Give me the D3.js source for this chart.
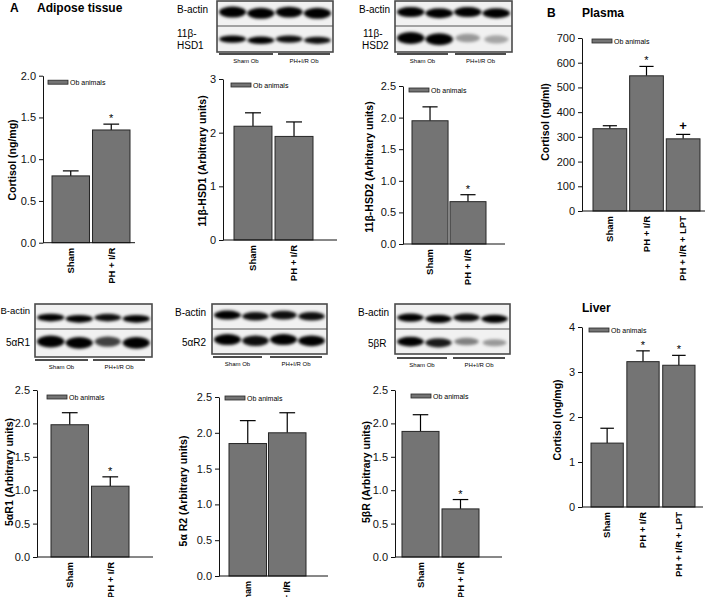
<!DOCTYPE html>
<html><head><meta charset="utf-8">
<script src="https://cdn.jsdelivr.net/npm/d3@7"></script>
<style>
body{margin:0;background:#fff}
svg{display:block;font-family:"Liberation Sans",Arial,Helvetica,sans-serif}
</style>
</head><body>
<svg id="c" width="709" height="597"></svg>
<script>
// ---------- DATA ----------
const groups2 = ["Sham", "PH + I/R"];
const groups3 = ["Sham", "PH + I/R", "PH + I/R + LPT"];
const legendLabel = "Ob animals";

const adiposeCortisol = [0.80, 1.35];
const adiposeCortisolErr = [0.06, 0.07];
const adiposeCortisolSig = ["", "*"];

const hsd1Values = [2.12, 1.93];
const hsd1Err = [0.25, 0.27];
const hsd1Sig = ["", ""];

const hsd2Values = [1.95, 0.67];
const hsd2Err = [0.22, 0.11];
const hsd2Sig = ["", "*"];

const r1Values = [1.98, 1.06];
const r1Err = [0.18, 0.14];
const r1Sig = ["", "*"];

const r2Values = [1.85, 2.00];
const r2Err = [0.32, 0.28];
const r2Sig = ["", ""];

const bRValues = [1.88, 0.72];
const bRErr = [0.25, 0.14];
const bRSig = ["", "*"];

const plasmaValues = [333, 547, 292];
const plasmaErr = [12, 38, 18];
const plasmaSig = ["", "*", "+"];

const liverValues = [1.42, 3.23, 3.15];
const liverErr = [0.33, 0.24, 0.22];
const liverSig = ["", "*", "*"];

const ticks0to2 = [0, 0.5, 1.0, 1.5, 2.0];
const ticks0to3 = [0, 1, 2, 3];
const ticks0to25 = [0, 0.5, 1.0, 1.5, 2.0, 2.5];
const ticks0to700 = [0, 100, 200, 300, 400, 500, 600, 700];
const ticks0to4 = [0, 1, 2, 3, 4];

// western blot band intensities (lanes: Sham Ob x2, PH+I/R Ob x2)
const blotGroups = ["Sham Ob", "PH+I/R Ob"];
const hsd1ActinBands = [1.0, 1.0, 0.95, 1.0];
const hsd1Bands = [0.95, 0.95, 0.9, 0.9];
const hsd2ActinBands = [1.0, 1.0, 1.0, 1.0];
const hsd2Bands = [1.0, 1.0, 0.35, 0.3];
const r1ActinBands = [0.95, 0.95, 0.9, 0.95];
const r1Bands = [1.0, 0.95, 0.7, 0.95];
const r2ActinBands = [1.0, 0.9, 0.9, 0.9];
const r2Bands = [1.0, 0.9, 1.0, 0.95];
const bRActinBands = [0.95, 0.95, 0.9, 0.95];
const bRBands = [0.95, 0.85, 0.45, 0.35];

// ---------- DRAW ----------
const svg = d3.select("#c");
const defs = svg.append("defs");
defs.append("filter").attr("id","blur").attr("x","-30%").attr("y","-100%").attr("width","160%").attr("height","300%")
  .append("feGaussianBlur").attr("stdDeviation","1.8 1.4");

const BAR_FILL = "#747474", BAR_STROKE = "#262626";

function barPanel(c) {
  const g = svg.append("g");
  const y = d3.scaleLinear().domain([0, c.max]).range([c.bottom, c.top]);
  const x = d3.scaleBand().domain(c.groups).range([c.barL, c.barR]).paddingInner(c.pad);
  const bw = x.bandwidth();
  const cap = bw * 0.42;
  c.values.forEach((v, i) => {
    const cx = x(c.groups[i]) + bw / 2;
    const yt = y(v + c.err[i]);
    g.append("line").attr("x1", cx).attr("x2", cx).attr("y1", y(v)).attr("y2", yt)
      .attr("stroke", "#000").attr("stroke-width", 1.2);
    g.append("line").attr("x1", cx - cap / 2).attr("x2", cx + cap / 2).attr("y1", yt).attr("y2", yt)
      .attr("stroke", "#000").attr("stroke-width", 1.2);
    if (c.sig[i]) {
      g.append("text").attr("x", cx).attr("y", yt - (c.sig[i] === "+" ? 4 : 2))
        .attr("text-anchor", "middle").attr("font-size", c.sig[i] === "+" ? 13 : 11)
        .attr("font-weight", c.sig[i] === "+" ? "bold" : "normal").text(c.sig[i]);
    }
  });
  g.selectAll("rect.bar").data(c.values).join("rect").attr("class", "bar")
    .attr("x", (d, i) => x(c.groups[i])).attr("y", d => y(d))
    .attr("width", bw).attr("height", d => c.bottom - y(d))
    .attr("fill", BAR_FILL).attr("stroke", BAR_STROKE).attr("stroke-width", 1);
  const ax = d3.axisLeft(y).tickValues(c.ticks).tickFormat(d3.format(c.fmt))
    .tickSize(4).tickPadding(3).tickSizeOuter(0);
  const ga = g.append("g").attr("transform", `translate(${c.axisX},0)`).call(ax);
  ga.selectAll("text").attr("font-size", 11).attr("font-family", "Liberation Sans, Arial, sans-serif").attr("fill", "#111");
  ga.selectAll("line,path").attr("stroke", "#111");
  g.append("line").attr("x1", c.axisX).attr("x2", c.axisEnd).attr("y1", c.bottom).attr("y2", c.bottom)
    .attr("stroke", "#111").attr("stroke-width", 1);
  c.groups.forEach(gr => {
    const cx = x(gr) + bw / 2;
    g.append("text").attr("transform", `translate(${cx},${c.bottom + 5}) rotate(-90)`)
      .attr("text-anchor", "end").attr("dy", "0.35em").attr("font-size", c.xfs || 9.5).attr("font-weight", "bold")
      .text(gr);
  });
  g.append("text").attr("transform", `translate(${c.ylx},${c.yly}) rotate(-90)`)
    .attr("text-anchor", "middle").attr("dy", "0.35em").attr("font-size", 10.5).attr("font-weight", "bold")
    .text(c.ylabel);
  const lx = c.axisX + c.lgx, ly = c.top + c.lgy;
  g.append("rect").attr("x", lx).attr("y", ly).attr("width", 20).attr("height", 4)
    .attr("fill", BAR_FILL).attr("stroke", BAR_STROKE).attr("stroke-width", 0.8);
  g.append("text").attr("x", lx + 22).attr("y", ly + 4.5).attr("font-size", 7).text(legendLabel);
}

barPanel({groups: groups2, values: adiposeCortisol, err: adiposeCortisolErr, sig: adiposeCortisolSig,
  max: 2, ticks: ticks0to2, fmt: ".1f", axisX: 43, axisEnd: 135, top: 75.7, bottom: 242.7,
  barL: 52, barR: 130, pad: 0.075, ylabel: "Cortisol (ng/mg)", ylx: 12, yly: 160, lgx: 5, lgy: 4.5});
barPanel({groups: groups2, values: hsd1Values, err: hsd1Err, sig: hsd1Sig,
  max: 3, ticks: ticks0to3, fmt: "d", axisX: 223, axisEnd: 337, top: 79, bottom: 240,
  barL: 234, barR: 313, pad: 0.075, ylabel: "11β-HSD1 (Arbitrary units)", ylx: 202, yly: 161, lgx: 8, lgy: 4});
barPanel({groups: groups2, values: hsd2Values, err: hsd2Err, sig: hsd2Sig,
  max: 2.5, ticks: ticks0to25, fmt: ".1f", axisX: 403, axisEnd: 505, top: 86, bottom: 244,
  barL: 412, barR: 486, pad: 0.05, ylabel: "11β-HSD2 (Arbitrary units)", ylx: 369, yly: 167, lgx: 6, lgy: 2});
barPanel({groups: groups2, values: r1Values, err: r1Err, sig: r1Sig,
  max: 2.5, ticks: ticks0to25, fmt: ".1f", axisX: 37, axisEnd: 153, top: 390, bottom: 557,
  barL: 51, barR: 129, pad: 0.075, ylabel: "5αR1 (Arbitrary units)", ylx: 9, yly: 472, lgx: 10, lgy: 5});
barPanel({groups: groups2, values: r2Values, err: r2Err, sig: r2Sig,
  max: 2.5, ticks: ticks0to25, fmt: ".1f", axisX: 219, axisEnd: 328, top: 397, bottom: 576,
  barL: 229, barR: 306, pad: 0.05, ylabel: "5α R2 (Arbitrary units)", ylx: 183, yly: 491, lgx: 6, lgy: -1, xfs: 9});
barPanel({groups: groups2, values: bRValues, err: bRErr, sig: bRSig,
  max: 2.5, ticks: ticks0to25, fmt: ".1f", axisX: 395, axisEnd: 502, top: 390, bottom: 557,
  barL: 402, barR: 479, pad: 0.075, ylabel: "5βR (Arbitrary units)", ylx: 366, yly: 472, lgx: 16, lgy: 4});
barPanel({groups: groups3, values: plasmaValues, err: plasmaErr, sig: plasmaSig,
  max: 700, ticks: ticks0to700, fmt: "d", axisX: 582, axisEnd: 705, top: 38, bottom: 211,
  barL: 593, barR: 700, pad: 0.08, ylabel: "Cortisol (ng/ml)", ylx: 545, yly: 122, lgx: 10, lgy: 1});
barPanel({groups: groups3, values: liverValues, err: liverErr, sig: liverSig,
  max: 4, ticks: ticks0to4, fmt: "d", axisX: 582, axisEnd: 703, top: 327, bottom: 507,
  barL: 591, barR: 695, pad: 0.1, ylabel: "Cortisol (ng/mg)", ylx: 557, yly: 420, lgx: 7, lgy: 1});

// western blots
let clipId = 0;
function blot(c) {
  const g = svg.append("g");
  const id = "clip" + (clipId++);
  defs.append("clipPath").attr("id", id).append("rect")
    .attr("x", c.x).attr("y", c.y).attr("width", c.w).attr("height", c.h);
  g.append("rect").attr("x", c.x).attr("y", c.y).attr("width", c.w).attr("height", c.h).attr("fill", "#f1f1f1");
  const lanes = d3.scaleBand().domain([0, 1, 2, 3]).range([c.x + 2, c.x + c.w - 2]).paddingInner(0.04);
  const bg = g.append("g").attr("clip-path", `url(#${id})`).append("g").attr("filter", "url(#blur)");
  [[c.actin, c.actinY, c.actinRy], [c.band, c.bandY, c.bandRy]].forEach(([arr, cy, ry]) => {
    bg.selectAll(null).data(arr).join("ellipse")
      .attr("cx", (d, i) => lanes(i) + lanes.bandwidth() / 2)
      .attr("cy", (d, i) => cy + (i % 2 ? 0.8 : -0.4))
      .attr("rx", (d) => lanes.bandwidth() * (0.42 + 0.08 * d))
      .attr("ry", d => ry * (0.55 + 0.45 * d))
      .attr("fill", "#000").attr("fill-opacity", d => Math.min(1, d * 1.05));
  });
  g.append("line").attr("x1", c.x).attr("x2", c.x + c.w).attr("y1", c.div).attr("y2", c.div)
    .attr("stroke", "#555").attr("stroke-width", 1.2);
  g.append("rect").attr("x", c.x).attr("y", c.y).attr("width", c.w).attr("height", c.h)
    .attr("fill", "none").attr("stroke", "#4a4a4a").attr("stroke-width", 1.6);
  c.labels.forEach(l => {
    g.append("text").attr("x", l.x).attr("y", l.y).attr("font-size", l.fs || 10).attr("text-anchor", l.anchor || "start").text(l.t);
  });
  c.lines.forEach((ln, i) => {
    g.append("line").attr("x1", ln[0]).attr("x2", ln[1]).attr("y1", c.lineY).attr("y2", c.lineY)
      .attr("stroke", "#111").attr("stroke-width", 1.5);
    g.append("text").attr("x", (ln[0] + ln[1]) / 2).attr("y", c.lineY + 8.5).attr("text-anchor", "middle")
      .attr("font-size", 6).text(blotGroups[i]);
  });
}

blot({x: 217, y: 1, w: 116, h: 51, div: 26, actin: hsd1ActinBands, actinY: 12.5, actinRy: 5.5,
  band: hsd1Bands, bandY: 39.5, bandRy: 3.8,
  labels: [{t: "B-actin", x: 177, y: 12.5}, {t: "11β-", x: 177, y: 36.5}, {t: "HSD1", x: 177, y: 48.5}],
  lines: [[219, 273], [278, 330]], lineY: 54});
blot({x: 395, y: 1, w: 117, h: 51, div: 26, actin: hsd2ActinBands, actinY: 12.5, actinRy: 5,
  band: hsd2Bands, bandY: 38.5, bandRy: 6,
  labels: [{t: "B-actin", x: 359, y: 12.5}, {t: "11β-", x: 363, y: 36.5}, {t: "HSD2", x: 362, y: 48.5}],
  lines: [[397, 448], [455, 506]], lineY: 54});
blot({x: 35, y: 304, w: 117, h: 53, div: 329, actin: r1ActinBands, actinY: 318, actinRy: 4,
  band: r1Bands, bandY: 342, bandRy: 6,
  labels: [{t: "B-actin", x: 0.5, y: 313.5, fs: 9.5}, {t: "5αR1", x: 6, y: 346}],
  lines: [[35, 88], [93, 145]], lineY: 360});
blot({x: 212, y: 304, w: 115, h: 50, div: 329, actin: r2ActinBands, actinY: 315.5, actinRy: 4.5,
  band: r2Bands, bandY: 340, bandRy: 5.5,
  labels: [{t: "B-actin", x: 175, y: 315.5}, {t: "5αR2", x: 182, y: 345.5}],
  lines: [[213, 262], [270, 322]], lineY: 357});
blot({x: 395, y: 304, w: 115, h: 50, div: 329, actin: bRActinBands, actinY: 318, actinRy: 4.2,
  band: bRBands, bandY: 342, bandRy: 5,
  labels: [{t: "B-actin", x: 358, y: 315.5}, {t: "5βR", x: 368, y: 346.5}],
  lines: [[397, 447], [453, 505]], lineY: 358});

const titles = [
  {t: "A", x: 10, y: 12}, {t: "Adipose tissue", x: 37, y: 12},
  {t: "B", x: 547, y: 17}, {t: "Plasma", x: 582, y: 17}, {t: "Liver", x: 582, y: 312}
];
titles.forEach(d => svg.append("text").attr("x", d.x).attr("y", d.y).attr("font-size", 12)
  .attr("font-weight", "bold").text(d.t));
</script>
</body></html>
